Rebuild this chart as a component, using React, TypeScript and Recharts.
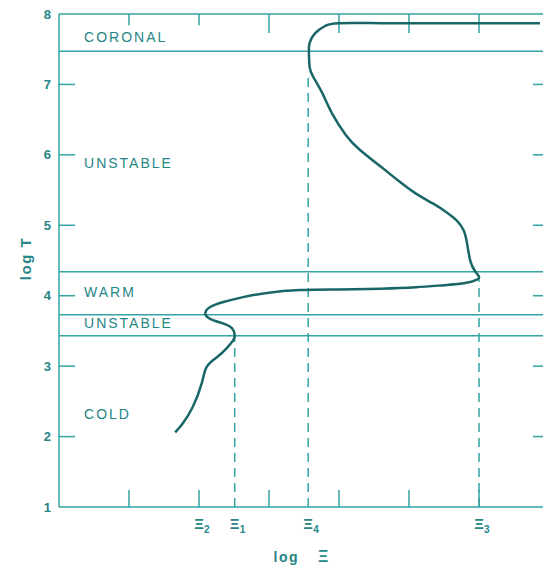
import { LineChart, Line, XAxis, YAxis, ReferenceLine, ReferenceDot } from 'recharts';

// equilibrium curve (log Xi, log T), cold end first
const curveLogXi = [
  1.66, 1.77, 1.91, 2.04, 2.11, 2.26, 2.4, 2.49, 2.51, 2.47, 2.33, 2.16, 2.09, 2.16, 2.35, 2.63,
  2.97, 3.44, 4.0, 4.6, 5.1, 5.5, 5.8, 5.97, 6.0, 5.95, 5.88, 5.83, 5.78, 5.68, 5.53, 5.34, 5.1,
  4.84, 4.6, 4.3, 4.1, 3.9, 3.76, 3.63, 3.58, 3.57, 3.58, 3.66, 3.8, 4.0, 4.6, 5.3, 6.1, 6.87,
];
const curveLogT = [
  2.06, 2.19, 2.42, 2.76, 2.99, 3.13, 3.26, 3.37, 3.44, 3.54, 3.61, 3.67, 3.75, 3.84, 3.91, 3.98,
  4.04, 4.08, 4.09, 4.1, 4.12, 4.15, 4.18, 4.23, 4.27, 4.34, 4.48, 4.74, 4.93, 5.07, 5.19, 5.31, 5.45,
  5.64, 5.83, 6.07, 6.28, 6.59, 6.88, 7.11, 7.25, 7.45, 7.59, 7.73, 7.83, 7.87, 7.87, 7.87, 7.87, 7.87,
];

const zoneBounds = [7.47, 4.34, 3.73, 3.43];
const zoneNames = ['CORONAL', 'UNSTABLE', 'WARM', 'UNSTABLE', 'COLD'];
const zoneNameLogT = [7.67, 5.88, 4.05, 3.61, 2.32];

const xiSubs = ['2', '1', '4', '3'];
const xiValues = [2.0, 2.51, 3.56, 6.0];
const xiDashTop = [null, 3.43, 7.15, 4.27];

const logTTicks = [1, 2, 3, 4, 5, 6, 7, 8];
const innerLogT = [2, 3, 4, 5, 6, 7];
const logXiTicks = [1, 2, 3, 4, 5, 6];
const shortTopTicks = [1, 2];

const data = curveLogXi.map((x, i) => ({ x, t: curveLogT[i] }));

const LINE = '#33a3a3';
const CURVE = '#186666';
const TEXT = '#268585';
const FONT = '"Liberation Sans", Arial, sans-serif';

const XiTick = ({ x, y, payload }: any) => {
  const i = xiValues.indexOf(payload.value);
  return (
    <g fill={TEXT} fontFamily={FONT} fontWeight="bold">
      <text x={x} y={y + 14} textAnchor="middle" fontSize={15}>
        Ξ
      </text>
      <text x={x + 5} y={y + 18} fontSize={10}>
        {xiSubs[i]}
      </text>
    </g>
  );
};

const XLabel = ({ viewBox }: any) => {
  const cx = viewBox.x + viewBox.width / 2;
  const by = viewBox.y + viewBox.height - 5;
  return (
    <g fill={TEXT} fontFamily={FONT} fontWeight="bold">
      <text x={cx - 5} y={by} textAnchor="end" fontSize={14} letterSpacing={1.5}>
        log
      </text>
      <text x={cx + 14} y={by} textAnchor="start" fontSize={16}>
        Ξ
      </text>
    </g>
  );
};

const YLabel = ({ viewBox }: any) => {
  const cx = viewBox.x + 6;
  const cy = viewBox.y + viewBox.height / 2 - 2;
  return (
    <text
      x={cx}
      y={cy}
      transform={`rotate(-90, ${cx}, ${cy})`}
      textAnchor="middle"
      dominantBaseline="central"
      fill={TEXT}
      fontSize={15}
      fontWeight="bold"
      letterSpacing={1.5}
      fontFamily={FONT}
    >
      log T
    </text>
  );
};

export default function App() {
  return (
    <div style={{ position: 'absolute', left: 0, top: 0, width: 543, height: 570, overflow: 'hidden', background: '#fff' }}>
      <LineChart width={560} height={570} data={data} margin={{ top: 14, right: 11, bottom: 3, left: 19 }}>
        <XAxis
          dataKey="x"
          type="number"
          domain={[0, 7]}
          ticks={xiValues}
          tickLine={false}
          tick={<XiTick />}
          height={60}
          stroke={LINE}
          strokeWidth={1.5}
          allowDataOverflow
          label={<XLabel />}
        />
        <YAxis
          type="number"
          domain={[1, 8]}
          ticks={logTTicks}
          tickLine={false}
          width={40}
          stroke={LINE}
          strokeWidth={1.5}
          allowDataOverflow
          tick={{ fill: TEXT, fontSize: 13, fontWeight: 'bold', fontFamily: FONT }}
          label={<YLabel />}
        />

        {/* frame top and right */}
        <ReferenceLine y={8} stroke={LINE} strokeWidth={1.5} />
        <ReferenceLine x={7} stroke={LINE} strokeWidth={1.5} />

        {/* inward ticks */}
        {innerLogT.map((v) => (
          <ReferenceLine key={`l${v}`} segment={[{ x: 0, y: v }, { x: 0.23, y: v }]} stroke={LINE} strokeWidth={1.5} />
        ))}
        {innerLogT.map((v) => (
          <ReferenceLine key={`r${v}`} segment={[{ x: 6.77, y: v }, { x: 7, y: v }]} stroke={LINE} strokeWidth={1.5} />
        ))}
        {logXiTicks.map((v) => (
          <ReferenceLine
            key={`t${v}`}
            segment={[{ x: v, y: 8 }, { x: v, y: shortTopTicks.includes(v) ? 7.84 : 7.73 }]}
            stroke={LINE}
            strokeWidth={1.5}
          />
        ))}
        {logXiTicks.map((v) => (
          <ReferenceLine key={`b${v}`} segment={[{ x: v, y: 1 }, { x: v, y: 1.24 }]} stroke={LINE} strokeWidth={1.5} />
        ))}

        {/* zone boundaries */}
        {zoneBounds.map((v) => (
          <ReferenceLine key={`z${v}`} y={v} stroke={LINE} strokeWidth={1.5} />
        ))}

        {/* dashed Xi markers */}
        {xiValues.map((v, i) =>
          xiDashTop[i] == null ? null : (
            <ReferenceLine
              key={`d${v}`}
              segment={[{ x: v, y: 1 }, { x: v, y: xiDashTop[i] as number }]}
              stroke={LINE}
              strokeWidth={1.5}
              strokeDasharray="9 6"
            />
          )
        )}

        {zoneNames.map((name, i) => (
          <ReferenceDot
            key={`n${i}`}
            x={0.286}
            y={zoneNameLogT[i]}
            r={0}
            fill="none"
            stroke="none"
            label={{
              value: name,
              position: 'right',
              offset: 5,
              fill: TEXT,
              fontSize: 14,
              letterSpacing: 2,
              fontFamily: FONT,
            }}
          />
        ))}

        <Line
          dataKey="t"
          type="natural"
          stroke={CURVE}
          strokeWidth={2.5}
          dot={false}
          isAnimationActive={false}
        />
      </LineChart>
    </div>
  );
}
